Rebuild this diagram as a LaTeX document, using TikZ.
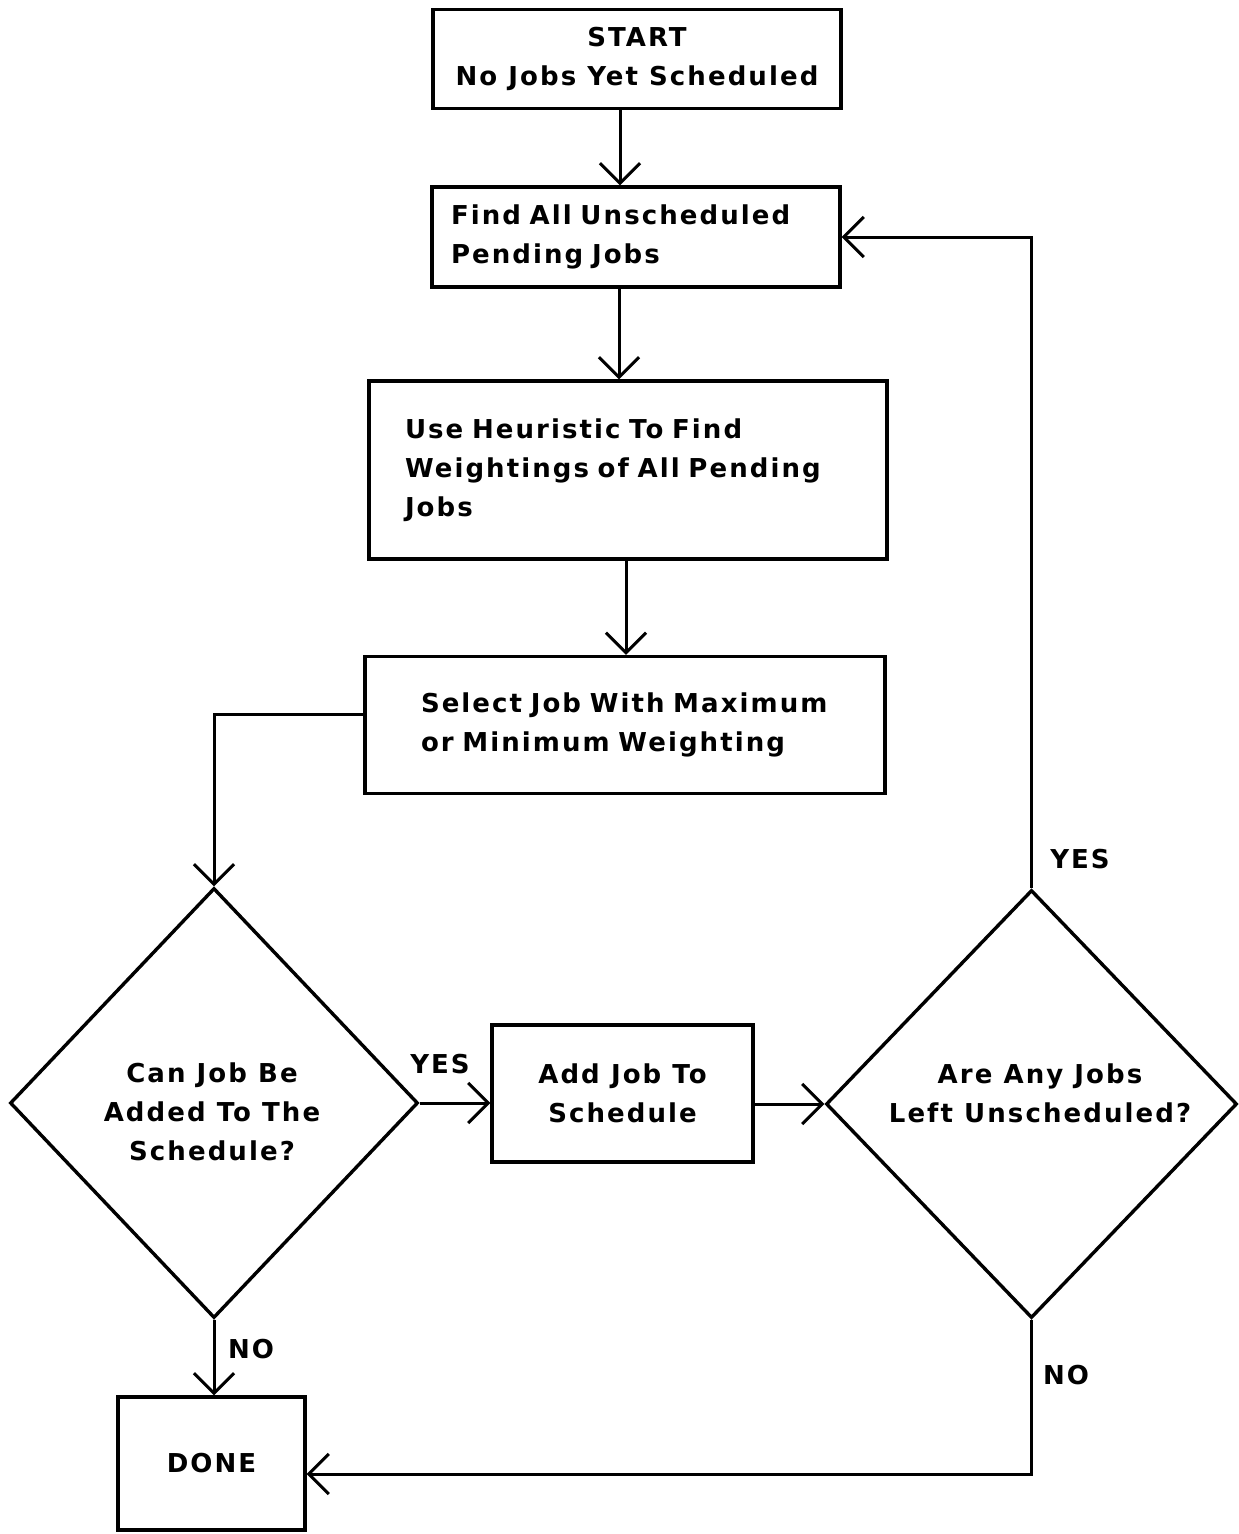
\documentclass[tikz,border=0pt]{standalone}
\usepackage{fontspec}
\usetikzlibrary{arrows.meta,shapes.geometric}
\newfontfamily\flowfont[LetterSpace=8]{DejaVu Sans}

\begin{document}
\begin{tikzpicture}[x=1pt,y=-1pt,
  every node/.style={font=\flowfont\bfseries\fontsize{26}{39}\selectfont},
  box/.style={draw,line width=3.4pt,inner ysep=0pt},
  diam/.style={draw,diamond,line width=3.4pt,inner sep=0pt},
  txt/.style={inner sep=0pt,align=center},
  arr/.style={line width=3pt,-{Straight Barb[length=20pt,width=40pt,line width=3pt]}}]
\useasboundingbox (0,0) rectangle (1239,1534);

% process boxes
\node[box,minimum width=408pt,minimum height=99pt,align=center] (start) at (637,59)
  {START\\No Jobs Yet Scheduled};
\node[box,text width=370pt,inner xsep=19pt,minimum height=100pt,align=left] (find) at (636,237)
  {Find All Unscheduled\\Pending Jobs};
\node[box,text width=446pt,inner xsep=36pt,minimum height=178pt,align=left] (heur) at (628,470)
  {Use Heuristic To Find\\Weightings of All Pending\\Jobs};
\node[box,text width=408pt,inner xsep=56pt,minimum height=137pt,align=left] (sel) at (625,725)
  {Select Job With Maximum\\or Minimum Weighting};
\node[box,minimum width=261pt,minimum height=137pt,align=center] (add) at (622.5,1093.5)
  {Add Job To\\Schedule};
\node[box,minimum width=187pt,minimum height=133pt] (done) at (211.5,1463.5) {DONE};

% decisions
\node[diam,minimum width=408pt,minimum height=430pt] (can) at (214,1103) {};
\node[txt] (cantext) at (212,1112) {Can Job Be\\Added To The\\Schedule?};
\node[diam,minimum width=411pt,minimum height=428pt] (any) at (1031.5,1104) {};
\node[txt] (anytext) at (1040,1093) {Are Any Jobs\\Left Unscheduled?};

% branch labels
\node[txt] (yes1) at (440,1064) {YES};
\node[txt] (yes2) at (1080,859) {YES};
\node[txt] (no1) at (251,1349) {NO};
\node[txt] (no2) at (1066,1375) {NO};

% routing columns and rows
\coordinate (xa) at (620,0);
\coordinate (xb) at (619,0);
\coordinate (xc) at (626,0);
\coordinate (ysel) at (0,714);
\coordinate (ydone) at (0,1474);

% connectors
\draw[arr] (start.south -| xa) -- (find.north -| xa);
\draw[arr] (find.south -| xb) -- (heur.north -| xb);
\draw[arr] (heur.south -| xc) -- (sel.north -| xc);
\draw[arr] (sel.west |- ysel) -| (can.north);
\draw[arr] (can.east) -- (add.west |- can.east);
\draw[arr] (add.east |- any.west) -- (any.west);
\draw[arr] (any.north) |- (find.east);
\draw[arr] (can.south) -- (done.north -| can.south);
\draw[arr] (any.south) |- (done.east |- ydone);
\end{tikzpicture}
\end{document}
